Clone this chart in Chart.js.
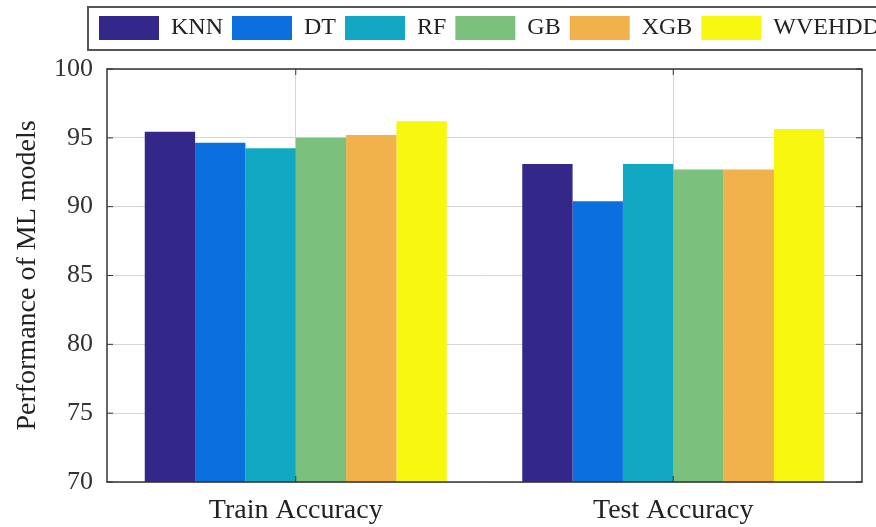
<!DOCTYPE html>
<html>
<head>
<meta charset="utf-8">
<script src="https://cdn.jsdelivr.net/npm/chart.js@4.4.1/dist/chart.umd.min.js"></script>
<style>
  html, body { margin: 0; padding: 0; background: #fff; }
  #wrap { width: 876px; height: 527px; }
</style>
</head>
<body>
<div id="wrap"><canvas id="perfChart"></canvas></div>
<script>
const categories = ['Train Accuracy', 'Test Accuracy'];
const models = ['KNN', 'DT', 'RF', 'GB', 'XGB', 'WVEHDD'];
const knn = [95.45, 93.1];
const dt = [94.65, 90.4];
const rf = [94.25, 93.1];
const gb = [95.0, 92.7];
const xgb = [95.2, 92.7];
const wvehdd = [96.2, 95.65];
const yTicks = [70, 75, 80, 85, 90, 95, 100];

const seriesValues = [knn, dt, rf, gb, xgb, wvehdd];
const colors = ['#33288a', '#0b6fe0', '#10a8c2', '#7cc07e', '#f1b14b', '#f8f70f'];
const serif = 'Liberation Serif';
const legendPad = 9;
const legendShift = 90;

// fixed legend band height, and push the legend row to the right
const legendLayout = {
    id: 'legendLayout',
    beforeInit(chart) {
        const fit = chart.legend.fit;
        chart.legend.fit = function () {
            fit.bind(chart.legend)();
            this.height = 62;
        };
    },
    afterLayout(chart) {
        chart.legend.left += legendShift;
        chart.legend.right += legendShift;
    }
};

// frame around legend + axes box with inward ticks
const frames = {
    id: 'frames',
    afterDraw(chart) {
        const ctx = chart.ctx;
        const lg = chart.legend;
        ctx.save();
        const firstX = lg.left + legendPad;
        const patchTop = lg.top + legendPad;
        ctx.strokeStyle = '#555';
        ctx.lineWidth = 2;
        ctx.strokeRect(firstX - 11, patchTop - 9, chart.width, 43);

        const a = chart.chartArea;
        ctx.strokeStyle = '#333';
        ctx.lineWidth = 1.5;
        ctx.strokeRect(a.left, a.top, a.right - a.left, a.bottom - a.top);
        const y = chart.scales.y;
        ctx.lineWidth = 1;
        yTicks.forEach(v => {
            const py = y.getPixelForValue(v);
            ctx.beginPath();
            ctx.moveTo(a.left, py); ctx.lineTo(a.left + 6, py);
            ctx.moveTo(a.right, py); ctx.lineTo(a.right - 6, py);
            ctx.stroke();
        });
        const x = chart.scales.x;
        categories.forEach((c, i) => {
            const px = x.getPixelForValue(i);
            ctx.beginPath();
            ctx.moveTo(px, a.bottom); ctx.lineTo(px, a.bottom - 6);
            ctx.moveTo(px, a.top); ctx.lineTo(px, a.top + 6);
            ctx.stroke();
        });
        ctx.restore();
    }
};

new Chart(document.getElementById('perfChart'), {
    type: 'bar',
    data: {
        labels: categories,
        datasets: models.map((m, i) => ({
            label: m,
            data: seriesValues[i],
            backgroundColor: colors[i],
            borderWidth: 0,
            categoryPercentage: 0.8,
            barPercentage: 1.0
        }))
    },
    options: {
        responsive: true,
        maintainAspectRatio: false,
        animation: false,
        layout: { padding: { left: 0, right: 14, top: 7, bottom: 0 } },
        plugins: {
            tooltip: { enabled: false },
            legend: {
                position: 'top',
                align: 'start',
                labels: {
                    boxWidth: 60,
                    boxHeight: 24,
                    padding: legendPad,
                    color: '#222',
                    font: { family: serif, size: 24 }
                }
            }
        },
        scales: {
            x: {
                grid: { offset: false, color: '#d6d6d6', drawTicks: false },
                border: { display: false },
                ticks: { color: '#222', padding: 12, font: { family: serif, size: 28 } },
                afterFit(scale) { scale.height = 45; }
            },
            y: {
                min: 70,
                max: 100,
                grid: { color: '#d6d6d6', drawTicks: false },
                border: { display: false },
                afterBuildTicks(scale) { scale.ticks = yTicks.map(v => ({ value: v })); },
                ticks: { color: '#333', padding: 14, font: { family: serif, size: 26 } },
                title: {
                    display: true,
                    text: 'Performance of ML models',
                    color: '#222',
                    font: { family: serif, size: 28 },
                    padding: { top: 11, bottom: 0 }
                },
                afterFit(scale) { scale.width = 107; }
            }
        }
    },
    plugins: [legendLayout, frames]
});
</script>
</body>
</html>
